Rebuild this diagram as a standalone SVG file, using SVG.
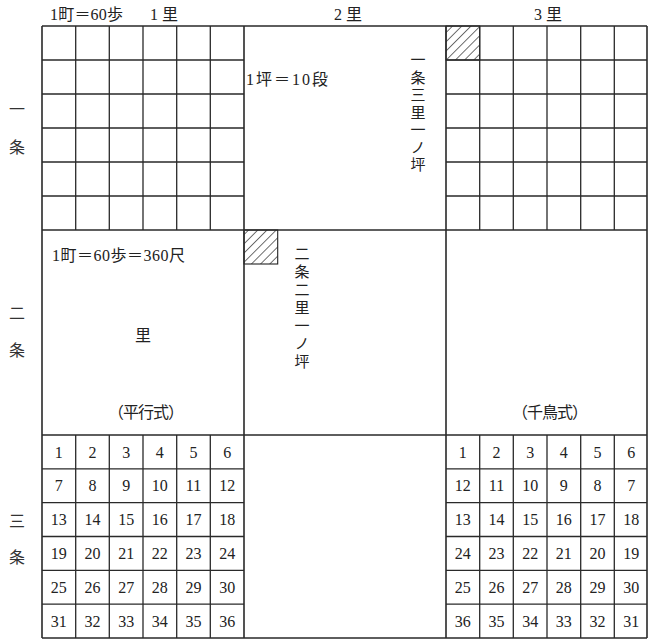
<svg xmlns="http://www.w3.org/2000/svg" width="648" height="640" viewBox="0 0 648 640">
<style>
.ln{stroke:#2a2a2a;stroke-width:1.3;fill:none}
.bd{stroke:#2a2a2a;stroke-width:1.6;fill:none}
.t{font-family:"Liberation Serif","Noto Sans CJK JP",serif;fill:#222;font-size:16px}
.n{font-family:"Liberation Serif",serif;fill:#222;font-size:16px;text-anchor:middle}
.v{font-family:"Noto Sans CJK JP",serif;fill:#222;font-size:15px;writing-mode:vertical-rl;letter-spacing:2.5px}
.k{font-family:"Noto Sans CJK JP",serif;fill:#333;font-size:16px;text-anchor:middle}
</style>
<defs>
<pattern id="hatch" patternUnits="userSpaceOnUse" width="6.5" height="6.5" patternTransform="rotate(45)">
<line x1="0" y1="0" x2="0" y2="6.5" stroke="#222" stroke-width="1.3"/>
</pattern>
</defs>
<rect width="648" height="640" fill="#fff"/>

<g id="top-labels">
<text class="t" x="50" y="20" font-size="15" textLength="73" lengthAdjust="spacing">1町＝60歩</text>
<text class="t" x="150" y="20">1 里</text>
<text class="t" x="334" y="20">2 里</text>
<text class="t" x="534" y="20">3 里</text>
</g>

<g id="side-labels">
<text class="k" x="17" y="115">一</text>
<text class="k" x="17" y="153">条</text>
<text class="k" x="17" y="319">二</text>
<text class="k" x="17" y="356">条</text>
<text class="k" x="17" y="527">三</text>
<text class="k" x="17" y="563">条</text>
</g>

<g id="hatches">
<rect x="446" y="26" width="33.7" height="34" fill="url(#hatch)" stroke="#222" stroke-width="1.1"/>
<rect x="244" y="230" width="33.7" height="34" fill="url(#hatch)" stroke="#222" stroke-width="1.1"/>
</g>

<g id="grid-1jo-1ri">
<path class="ln" d="M75.7 26V230M109.3 26V230M143 26V230M176.7 26V230M210.3 26V230M42 60H244M42 94H244M42 128H244M42 162H244M42 196H244"/>
</g>
<g id="grid-1jo-3ri">
<path class="ln" d="M479.7 26V230M513.3 26V230M547 26V230M580.7 26V230M614.3 26V230M446 60H647M446 94H647M446 128H647M446 162H647M446 196H647"/>
</g>
<g id="grid-3jo-1ri">
<path class="ln" d="M75.7 435V638M109.3 435V638M143 435V638M176.7 435V638M210.3 435V638M42 468.8H244M42 502.7H244M42 536.5H244M42 570.3H244M42 604.2H244"/>
</g>
<g id="grid-3jo-3ri">
<path class="ln" d="M479.7 435V638M513.3 435V638M547 435V638M580.7 435V638M614.3 435V638M446 468.8H647M446 502.7H647M446 536.5H647M446 570.3H647M446 604.2H647"/>
</g>

<g id="frame">
<path class="bd" d="M42 26H647M42 230H647M42 435H647M42 638H647M42 26V638M244 26V638M446 26V638M647 26V638"/>
</g>

<g id="block-texts">
<text class="t" x="246" y="85" font-size="15" textLength="82" lengthAdjust="spacing">1坪＝10段</text>
<text class="v" x="418" y="52">一条三里一ノ坪</text>
<text class="v" x="302" y="246" style="letter-spacing:3px">二条二里一ノ坪</text>
<text class="t" x="52" y="261" font-size="15.5" textLength="133" lengthAdjust="spacing">1町＝60歩＝360尺</text>
<text class="t" x="143" y="341" text-anchor="middle" font-size="17">里</text>
<text class="t" x="108" y="418" font-size="15.5" textLength="76" lengthAdjust="spacing">（平行式）</text>
<text class="t" x="512" y="418" font-size="15.5" textLength="76" lengthAdjust="spacing">（千鳥式）</text>
</g>

<g id="numbers-heikou">
<text class="n" x="58.8" y="457.5">1</text><text class="n" x="92.5" y="457.5">2</text><text class="n" x="126.2" y="457.5">3</text><text class="n" x="159.8" y="457.5">4</text><text class="n" x="193.5" y="457.5">5</text><text class="n" x="227.2" y="457.5">6</text>
<text class="n" x="58.8" y="491.3">7</text><text class="n" x="92.5" y="491.3">8</text><text class="n" x="126.2" y="491.3">9</text><text class="n" x="159.8" y="491.3">10</text><text class="n" x="193.5" y="491.3">11</text><text class="n" x="227.2" y="491.3">12</text>
<text class="n" x="58.8" y="525.2">13</text><text class="n" x="92.5" y="525.2">14</text><text class="n" x="126.2" y="525.2">15</text><text class="n" x="159.8" y="525.2">16</text><text class="n" x="193.5" y="525.2">17</text><text class="n" x="227.2" y="525.2">18</text>
<text class="n" x="58.8" y="559">19</text><text class="n" x="92.5" y="559">20</text><text class="n" x="126.2" y="559">21</text><text class="n" x="159.8" y="559">22</text><text class="n" x="193.5" y="559">23</text><text class="n" x="227.2" y="559">24</text>
<text class="n" x="58.8" y="592.9">25</text><text class="n" x="92.5" y="592.9">26</text><text class="n" x="126.2" y="592.9">27</text><text class="n" x="159.8" y="592.9">28</text><text class="n" x="193.5" y="592.9">29</text><text class="n" x="227.2" y="592.9">30</text>
<text class="n" x="58.8" y="626.7">31</text><text class="n" x="92.5" y="626.7">32</text><text class="n" x="126.2" y="626.7">33</text><text class="n" x="159.8" y="626.7">34</text><text class="n" x="193.5" y="626.7">35</text><text class="n" x="227.2" y="626.7">36</text>
</g>

<g id="numbers-chidori">
<text class="n" x="462.8" y="457.5">1</text><text class="n" x="496.5" y="457.5">2</text><text class="n" x="530.2" y="457.5">3</text><text class="n" x="563.8" y="457.5">4</text><text class="n" x="597.5" y="457.5">5</text><text class="n" x="631.2" y="457.5">6</text>
<text class="n" x="462.8" y="491.3">12</text><text class="n" x="496.5" y="491.3">11</text><text class="n" x="530.2" y="491.3">10</text><text class="n" x="563.8" y="491.3">9</text><text class="n" x="597.5" y="491.3">8</text><text class="n" x="631.2" y="491.3">7</text>
<text class="n" x="462.8" y="525.2">13</text><text class="n" x="496.5" y="525.2">14</text><text class="n" x="530.2" y="525.2">15</text><text class="n" x="563.8" y="525.2">16</text><text class="n" x="597.5" y="525.2">17</text><text class="n" x="631.2" y="525.2">18</text>
<text class="n" x="462.8" y="559">24</text><text class="n" x="496.5" y="559">23</text><text class="n" x="530.2" y="559">22</text><text class="n" x="563.8" y="559">21</text><text class="n" x="597.5" y="559">20</text><text class="n" x="631.2" y="559">19</text>
<text class="n" x="462.8" y="592.9">25</text><text class="n" x="496.5" y="592.9">26</text><text class="n" x="530.2" y="592.9">27</text><text class="n" x="563.8" y="592.9">28</text><text class="n" x="597.5" y="592.9">29</text><text class="n" x="631.2" y="592.9">30</text>
<text class="n" x="462.8" y="626.7">36</text><text class="n" x="496.5" y="626.7">35</text><text class="n" x="530.2" y="626.7">34</text><text class="n" x="563.8" y="626.7">33</text><text class="n" x="597.5" y="626.7">32</text><text class="n" x="631.2" y="626.7">31</text>
</g>
</svg>
